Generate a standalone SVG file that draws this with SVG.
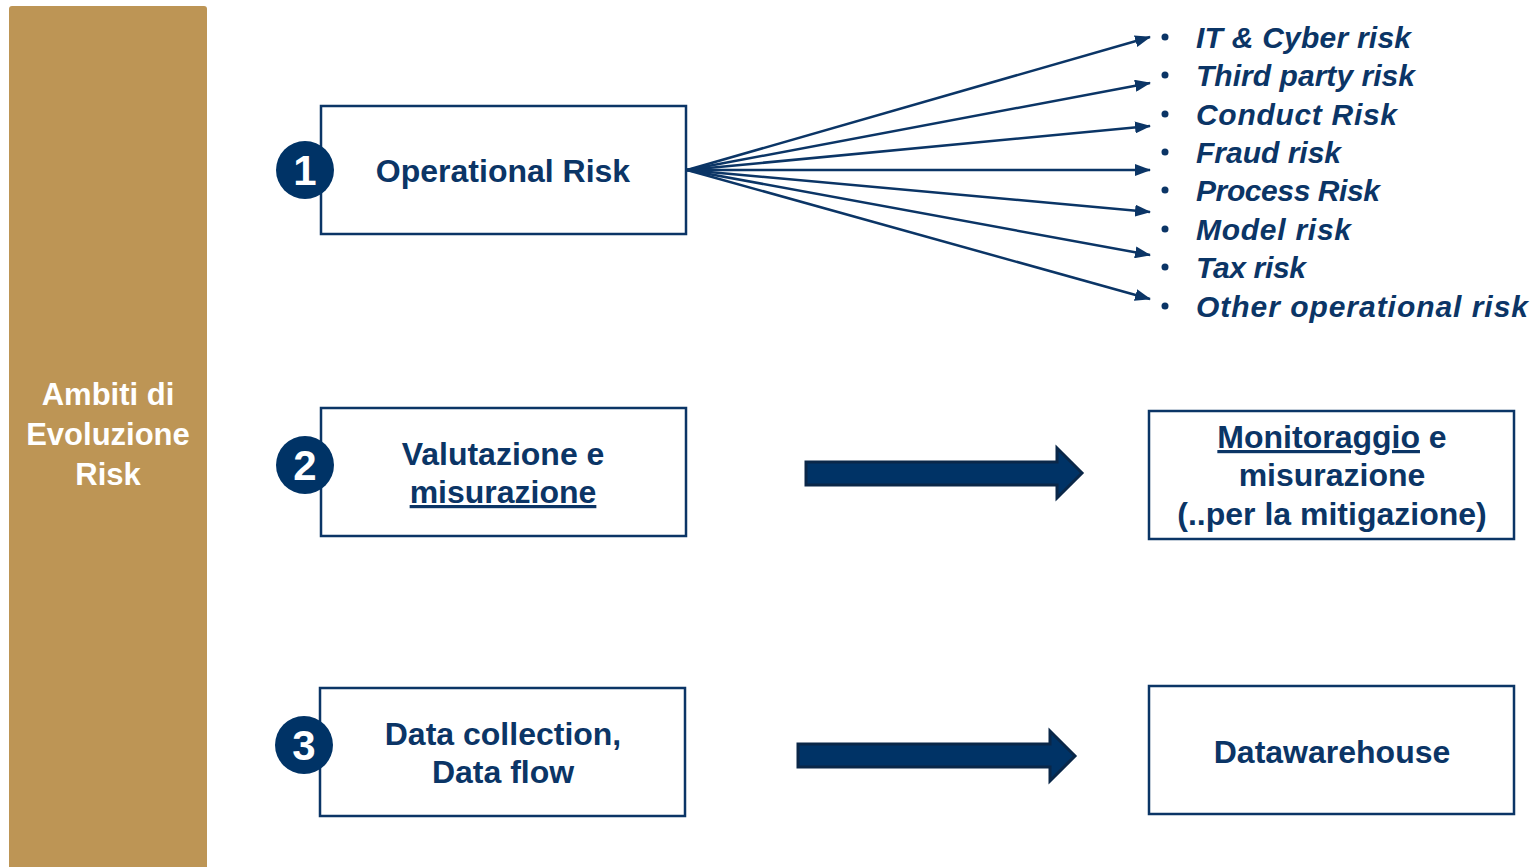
<svg xmlns="http://www.w3.org/2000/svg" width="1536" height="867" viewBox="0 0 1536 867">
<defs>
<style>
.box{fill:#fff;stroke:#0B3566;stroke-width:2.5}
.t{font-family:"Liberation Sans",Arial,sans-serif;font-weight:bold;font-size:32px;fill:#0B3566;text-anchor:middle}
.li{font-family:"Liberation Sans",Arial,sans-serif;font-weight:bold;font-style:italic;font-size:30px;fill:#0B3566}
.num{font-family:"Liberation Sans",Arial,sans-serif;font-weight:bold;font-size:42px;fill:#fff;text-anchor:middle}
.side{font-family:"Liberation Sans",Arial,sans-serif;font-weight:bold;font-size:31px;fill:#fff;text-anchor:middle}
.fan{stroke:#0B3566;stroke-width:2.5;fill:none;marker-end:url(#ah)}
.blk{fill:#003366;stroke:#0A2748;stroke-width:3}
</style>
<marker id="ah" viewBox="0 0 16 12" refX="15" refY="6" markerWidth="16" markerHeight="12" markerUnits="userSpaceOnUse" orient="auto">
<path d="M0,0 L16,6 L0,12 z" fill="#0B3566"/>
</marker>
</defs>
<rect width="1536" height="867" fill="#fff"/>
<g id="sidebar">
<path d="M9,867 L9,9 Q9,6 12,6 L204,6 Q207,6 207,9 L207,867 z" fill="#BD9555"/>
<text class="side" x="108" y="405">Ambiti di</text>
<text class="side" x="108" y="445">Evoluzione</text>
<text class="side" x="108" y="485">Risk</text>
</g>
<g id="connectors">
<path class="fan" d="M687,170 L1150,37"/>
<path class="fan" d="M687,170 L1150,83"/>
<path class="fan" d="M687,170 L1150,126"/>
<path class="fan" d="M687,170 L1150,170"/>
<path class="fan" d="M687,170 L1150,212"/>
<path class="fan" d="M687,170 L1150,255"/>
<path class="fan" d="M687,170 L1150,299"/>
<path class="blk" d="M806,462 L1057,462 L1057,448 L1082,473 L1057,498 L1057,485 L806,485 z"/>
<path class="blk" d="M798,744 L1050,744 L1050,731 L1075,756 L1050,781 L1050,767 L798,767 z"/>
</g>
<g id="node1">
<rect class="box" x="321" y="106" width="365" height="128"/>
<circle cx="305" cy="170" r="29" fill="#003366"/>
<text class="num" x="305" y="185">1</text>
<text class="t" x="503" y="182">Operational Risk</text>
</g>
<g id="node2">
<rect class="box" x="321" y="408" width="365" height="128"/>
<circle cx="305" cy="465" r="29" fill="#003366"/>
<text class="num" x="305" y="480">2</text>
<text class="t" x="503" y="465">Valutazione e</text>
<text class="t" x="503" y="503" text-decoration="underline">misurazione</text>
</g>
<g id="node3">
<rect class="box" x="320" y="688" width="365" height="128"/>
<circle cx="304" cy="745" r="29" fill="#003366"/>
<text class="num" x="304" y="760">3</text>
<text class="t" x="503" y="745">Data collection,</text>
<text class="t" x="503" y="783">Data flow</text>
</g>
<g id="node4">
<rect class="box" x="1149" y="411" width="365" height="128"/>
<text class="t" x="1332" y="448"><tspan text-decoration="underline">Monitoraggio</tspan> e</text>
<text class="t" x="1332" y="486">misurazione</text>
<text class="t" x="1332" y="525">(..per la mitigazione)</text>
</g>
<g id="node5">
<rect class="box" x="1149" y="686" width="365" height="128"/>
<text class="t" x="1332" y="763">Datawarehouse</text>
</g>
<g id="list">
<g fill="#0B3566">
<circle cx="1165" cy="37" r="3.5"/>
<circle cx="1165" cy="75" r="3.5"/>
<circle cx="1165" cy="114" r="3.5"/>
<circle cx="1165" cy="152" r="3.5"/>
<circle cx="1165" cy="190" r="3.5"/>
<circle cx="1165" cy="229" r="3.5"/>
<circle cx="1165" cy="267" r="3.5"/>
<circle cx="1165" cy="306" r="3.5"/>
</g>
<text class="li" x="1196" y="48" textLength="215">IT &amp; Cyber risk</text>
<text class="li" x="1196" y="86" textLength="219">Third party risk</text>
<text class="li" x="1196" y="125" textLength="201">Conduct Risk</text>
<text class="li" x="1196" y="163" textLength="145">Fraud risk</text>
<text class="li" x="1196" y="201" textLength="184">Process Risk</text>
<text class="li" x="1196" y="240" textLength="155">Model risk</text>
<text class="li" x="1196" y="278" textLength="110">Tax risk</text>
<text class="li" x="1196" y="317" textLength="332">Other operational risk</text>
</g>
</svg>
